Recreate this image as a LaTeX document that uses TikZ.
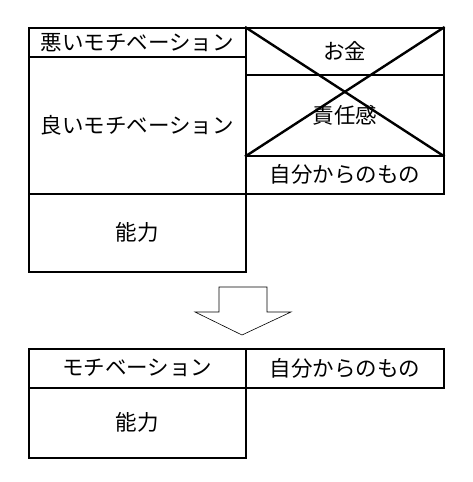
\documentclass[tikz,border=0pt]{standalone}
\usepackage{fontspec}
\setmainfont{Noto Sans CJK JP}
\usepackage{tikz}
\tikzset{
  cell/.style={rectangle, draw=black, line width=1.6pt, anchor=north west, inner sep=0pt, text centered, font=\fontsize{21.5}{25}\selectfont},
  wide/.style={cell, minimum width=217pt},
  narrow/.style={cell, minimum width=198pt},
  cross/.style={line width=2.4pt},
  bigarrow/.style={draw=black, line width=0.6pt, fill=white}
}
\begin{document}
\begin{tikzpicture}[x=1pt, y=-1pt]
  \useasboundingbox (0,0) rectangle (473,482);
  % Before
  \node (bad) [wide, minimum height=29pt] at (28,27) {悪いモチベーション};
  \node (good) [wide, minimum height=137pt] at (28,56) {良いモチベーション};
  \node (ability) [wide, minimum height=78pt] at (28,193) {能力};
  \node (money) [narrow, minimum height=47pt] at (245,27) {お金};
  \node (duty) [narrow, minimum height=81pt] at (245,74) {責任感};
  \node (own) [narrow, minimum height=38pt] at (245,155) {自分からのもの};
  
  % Cross
  \draw [cross] (money.north west) -- (duty.south east);
  \draw [cross] (money.north east) -- (duty.south west);
  
  % Arrow
  \draw [bigarrow] (219,287) -- (267,287) -- (267,312) -- (291,312) -- (242,335) -- (195,312) -- (219,312) -- cycle;
  
  % After
  \node (motiv) [wide, minimum height=39pt] at (28,348) {モチベーション};
  \node (own2) [narrow, minimum height=39pt] at (245,348) {自分からのもの};
  \node (ability2) [wide, minimum height=70pt] at (28,387) {能力};
\end{tikzpicture}
\end{document}
